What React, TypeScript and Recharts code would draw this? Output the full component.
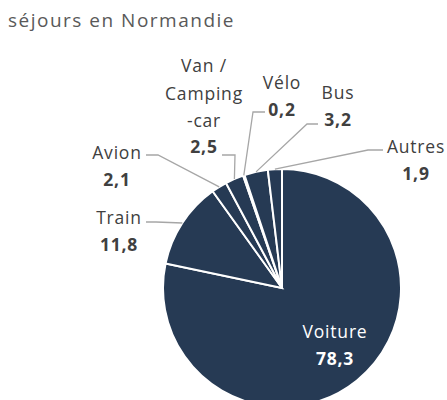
import React from 'react';
import { PieChart, Pie, Cell } from 'recharts';

// Mode de transport (%) pour les séjours en Normandie
const categories = ['Voiture', 'Train', 'Avion', 'Van / Camping-car', 'Vélo', 'Bus', 'Autres'];
const shares = [78.3, 11.8, 2.1, 2.5, 0.2, 3.2, 1.9];
const labelLines = [['Voiture'], ['Train'], ['Avion'], ['Van /', 'Camping', '-car'], ['Vélo'], ['Bus'], ['Autres']];

const data = categories.map((name, i) => ({ name, value: shares[i] }));

const SLICE = '#263a54';
const TEXT = '#404040';
const LEADER = '#a6a6a6';
const FONT = '"Open Sans", sans-serif';
const RAD = Math.PI / 180;

// where each label sits, and the two first points of its leader line
const layout = [
  { x: 335, y: 331, inside: true, line: null },
  { x: 119, y: 217, line: [[146, 222], [156, 222]] },
  { x: 117, y: 152, line: [[146, 155], [158, 155]] },
  { x: 204, y: 65, line: [[222, 155], [235, 155]] },
  { x: 282, y: 82, line: [[265, 112], [253, 112]] },
  { x: 338, y: 92, line: [[318, 124], [307, 124]] },
  { x: 416, y: 146, line: [[383, 150], [368, 150]] },
];

const fmt = (v: number) => v.toFixed(1).replace('.', ',');

const renderLabel = (props: any) => {
  const { cx, cy, midAngle, outerRadius, index, value } = props;
  const l = layout[index];
  const lines = labelLines[index];
  const color = l.inside ? '#ffffff' : TEXT;
  let path = null;
  if (l.line) {
    const ex = cx + outerRadius * Math.cos(-midAngle * RAD);
    const ey = cy + outerRadius * Math.sin(-midAngle * RAD);
    const pts = [...l.line, [ex, ey]].map(p => p.join(',')).join(' ');
    path = <polyline points={pts} fill="none" stroke={LEADER} strokeWidth={1.3} />;
  }
  return (
    <g key={`lbl-${index}`}>
      {path}
      {lines.map((t, k) => (
        <text key={k} x={l.x} y={l.y + k * 27.5} textAnchor="middle" dominantBaseline="central"
          fill={color} fontFamily={FONT} fontSize={17.5} letterSpacing={0.8}>
          {t}
        </text>
      ))}
      <text x={l.x} y={l.y + lines.length * 27} textAnchor="middle" dominantBaseline="central"
        fill={color} fontFamily={FONT} fontSize={17.5} fontWeight={700} letterSpacing={0.8}>
        {fmt(value)}
      </text>
    </g>
  );
};

export default function App() {
  return (
    <div style={{ position: 'fixed', left: 0, top: 0, width: 447, height: 400, background: '#fff', overflow: 'hidden' }}>
      <div style={{ position: 'absolute', left: 8, top: 7, fontFamily: FONT, fontSize: 19, letterSpacing: 1.5, color: '#595959', lineHeight: '26px' }}>
        séjours en Normandie
      </div>
      <PieChart width={447} height={400} margin={{ top: 0, right: 0, bottom: 0, left: 0 }} style={{ position: 'absolute', left: 0, top: 0 }}>
        <Pie
          data={data}
          dataKey="value"
          nameKey="name"
          cx={282}
          cy={288}
          outerRadius={119}
          startAngle={90}
          endAngle={-270}
          stroke="#ffffff"
          strokeWidth={2}
          label={renderLabel}
          labelLine={false}
          isAnimationActive={false}
        >
          {data.map((d, i) => (
            <Cell key={`cell-${i}`} fill={SLICE} />
          ))}
        </Pie>
      </PieChart>
    </div>
  );
}
